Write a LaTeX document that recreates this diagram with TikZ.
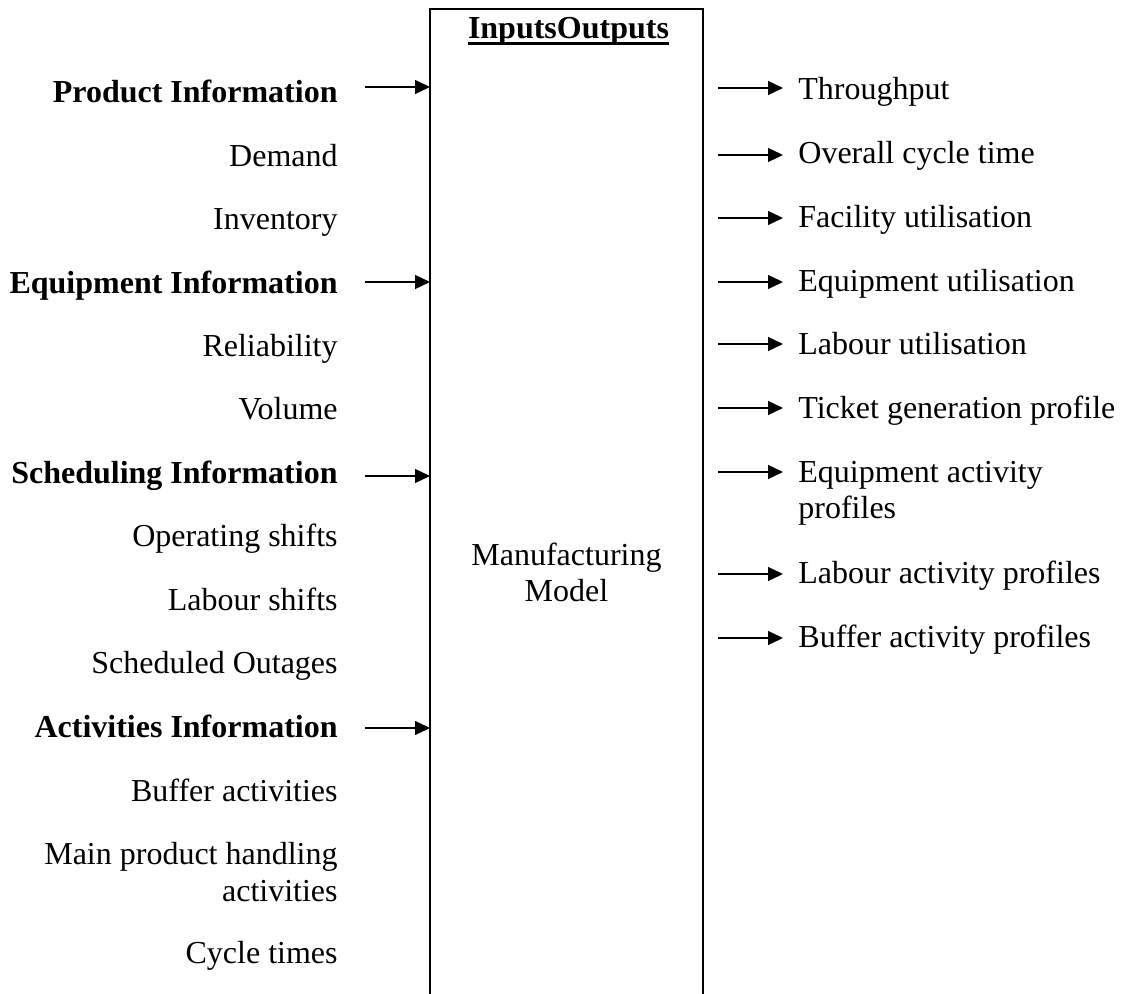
\documentclass[tikz,border=0pt]{standalone}
\usepackage{fontspec}
\setmainfont{Liberation Serif}
\usetikzlibrary{arrows.meta,calc}
\begin{document}
\begin{tikzpicture}[x=0.5pt,y=-0.5pt,
  lbl/.style={inner sep=0pt, font=\fontsize{16}{18.4}\selectfont},
  inl/.style={lbl, anchor=base east, align=right},
  outl/.style={lbl, anchor=base west, align=left},
  hd/.style={inl, font=\fontsize{16}{18.4}\selectfont\bfseries},
  arr/.style={line width=0.65pt, -{Triangle[length=7.5pt,width=7pt]}},
  boxline/.style={line width=0.8pt}]
\useasboundingbox (0,0) rectangle (1125,994);
% box (open at the bottom)
\coordinate (bl) at (430,1000);
\coordinate (tl) at (430,9);
\coordinate (tr) at (703,9);
\coordinate (br) at (703,1000);
\draw[boxline] (bl) -- (tl) -- (tr) -- (br);
% title
\node[lbl, anchor=base, font=\fontsize{16}{18.4}\selectfont\bfseries] (title) at (568.5,39) {InputsOutputs};
\draw[line width=1.2pt] ($(title.base west)+(0,4.5)$) -- ($(title.base east)+(0,4.5)$);
\node[lbl, anchor=base, align=center] (model) at (566.5,602) {Manufacturing\\Model};
% inputs
\node[hd]  (in0)  at (338,103)   {Product Information};
\node[inl] (in1)  at (338,166.4) {Demand};
\node[inl] (in2)  at (338,229.8) {Inventory};
\node[hd]  (in3)  at (338,293.2) {Equipment Information};
\node[inl] (in4)  at (338,356.6) {Reliability};
\node[inl] (in5)  at (338,420)   {Volume};
\node[hd]  (in6)  at (338,483.4) {Scheduling Information};
\node[inl] (in7)  at (338,546.8) {Operating shifts};
\node[inl] (in8)  at (338,610.2) {Labour shifts};
\node[inl] (in9)  at (338,673.6) {Scheduled Outages};
\node[hd]  (in10) at (338,737)   {Activities Information};
\node[inl] (in11) at (338,801)   {Buffer activities};
\node[inl] (in12) at (338,901)   {Main product handling\\activities};
\node[inl] (in13) at (338,963)   {Cycle times};
% input arrows
\foreach \n/\y in {a/87, b/282, c/476, d/728}{
  \coordinate (is\n) at (365,\y);
  \coordinate (ie\n) at (430,\y);
  \draw[arr] (is\n) -- (ie\n);
}
% outputs
\node[outl] (out0) at (798,100) {Throughput};
\node[outl] (out1) at (798,164) {Overall cycle time};
\node[outl] (out2) at (798,228) {Facility utilisation};
\node[outl] (out3) at (798,292) {Equipment utilisation};
\node[outl] (out4) at (798,355) {Labour utilisation};
\node[outl] (out5) at (798,419) {Ticket generation profile};
\node[outl] (out6) at (798,519) {Equipment activity\\profiles};
\node[outl] (out7) at (798,583) {Labour activity profiles};
\node[outl] (out8) at (798,647) {Buffer activity profiles};
% output arrows
\foreach \n/\y in {a/88, b/155, c/218, d/282, e/344, f/408, g/472, h/574, i/638}{
  \coordinate (os\n) at (718,\y);
  \coordinate (oe\n) at (783,\y);
  \draw[arr] (os\n) -- (oe\n);
}
\end{tikzpicture}
\end{document}
